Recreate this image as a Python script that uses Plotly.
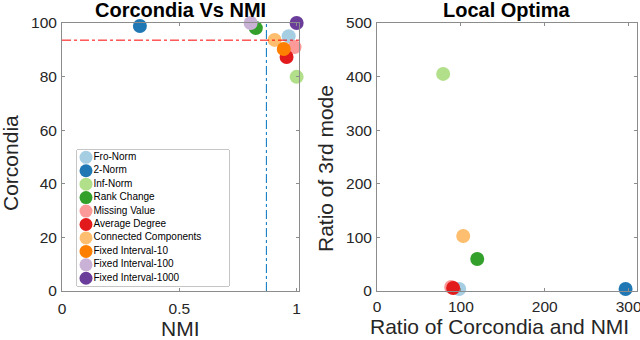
import plotly.graph_objects as go

names = ["Fro-Norm", "2-Norm", "Inf-Norm", "Rank Change", "Missing Value",
         "Average Degree", "Connected Components", "Fixed Interval-10",
         "Fixed Interval-100", "Fixed Interval-1000"]
colors = ["#a6cee3", "#1f78b4", "#b2df8a", "#33a02c", "#fb9a99",
          "#e31a1c", "#fdbf6f", "#ff7f00", "#cab2d6", "#6a3d9a"]
nmi = [0.966, 0.332, 1.0, 0.826, 0.991, 0.957, 0.906, 0.945, 0.804, 1.0]
corcondia = [95.1, 98.9, 79.9, 98.1, 91.0, 87.3, 93.7, 90.3, 100.0, 100.0]
ratio_cc_nmi = [98, 296.4, 78.9, 119.5, 88.4, 90.8, 102.8, None, None, None]
ratio_3rd = [3.7, 3.7, 405, 59.7, 7.5, 5.6, 102.6, None, None, None]
threshold_corcondia = 93.6
threshold_nmi = 0.871

left_ticks_x = [0, 0.5, 1]
left_ticks_y = [0, 20, 40, 60, 80, 100]
right_ticks_x = [0, 100, 200, 300]
right_ticks_y = [0, 100, 200, 300, 400, 500]

FONT = "Liberation Sans, Arial, Helvetica"
W, H = 640, 340
TOP, BOT = 23, 291  # plot area rows in pixels


def px(x):
    return x / W


def py(y):
    return (BOT - y) / (BOT - TOP)


fig = go.Figure()
for i in range(len(names)):
    fig.add_trace(go.Scatter(x=[nmi[i]], y=[corcondia[i]], mode="markers", name=names[i],
                             marker=dict(color=colors[i], size=14, line=dict(width=0)),
                             cliponaxis=False, showlegend=False, xaxis="x", yaxis="y"))
fig.add_trace(go.Scatter(x=[0, 1.01], y=[threshold_corcondia, threshold_corcondia], mode="lines",
                         line=dict(color="red", width=1, dash="dashdot"), showlegend=False,
                         xaxis="x", yaxis="y"))
fig.add_trace(go.Scatter(x=[threshold_nmi, threshold_nmi], y=[0, 100], mode="lines",
                         line=dict(color="#0072BD", width=1, dash="dashdot"), showlegend=False,
                         xaxis="x", yaxis="y"))
for i in range(len(names)):
    if ratio_cc_nmi[i] is None:
        continue
    fig.add_trace(go.Scatter(x=[ratio_cc_nmi[i]], y=[ratio_3rd[i]], mode="markers", name=names[i],
                             marker=dict(color=colors[i], size=14, line=dict(width=0)),
                             cliponaxis=False, showlegend=False, xaxis="x2", yaxis="y2"))

# legend drawn on its own hidden axes (x3/y3), one row per entry
leg_rows = list(range(len(names)))
fig.add_trace(go.Scatter(x=[9] * len(names), y=[7.3 + 13.44 * r for r in leg_rows], mode="markers",
                         marker=dict(color=colors, size=13, line=dict(width=0)),
                         cliponaxis=False, showlegend=False, hoverinfo="skip",
                         xaxis="x3", yaxis="y3"))
fig.add_trace(go.Scatter(x=[16.5] * len(names), y=[7.3 + 13.44 * r for r in leg_rows], mode="text",
                         text=names, textposition="middle right",
                         textfont=dict(family=FONT, size=10, color="#000"),
                         cliponaxis=False, showlegend=False, hoverinfo="skip",
                         xaxis="x3", yaxis="y3"))

axis_common = dict(showline=True, linecolor="#8c8c8c", linewidth=1, mirror="ticks",
                   ticks="inside", ticklen=3, tickcolor="#8c8c8c", showgrid=False, zeroline=False,
                   automargin=False, ticklabeloverflow="allow",
                   tickfont=dict(family=FONT, size=15.5, color="#262626"))

fig.update_layout(
    width=W, height=H,
    margin=dict(l=0, r=0, t=TOP, b=H - BOT, autoexpand=False),
    paper_bgcolor="white", plot_bgcolor="white",
    showlegend=False,
    xaxis=dict(domain=[px(62), px(299)], range=[0, 1.01], tickvals=left_ticks_x,
               ticktext=["0", "0.5", "1"], anchor="y", ticklabelstandoff=3, **axis_common),
    yaxis=dict(domain=[0, 1], range=[0, 100], tickvals=left_ticks_y, anchor="x",
               ticklabelstandoff=1, **axis_common),
    xaxis2=dict(domain=[px(377), px(637)], range=[0, 310], tickvals=right_ticks_x,
                anchor="y2", ticklabelstandoff=1, **axis_common),
    yaxis2=dict(domain=[0, 1], range=[0, 500], tickvals=right_ticks_y, anchor="x2",
                ticklabelstandoff=1, **axis_common),
    xaxis3=dict(domain=[px(77), px(229)], range=[0, 152], visible=False, fixedrange=True, anchor="y3"),
    yaxis3=dict(domain=[py(286), py(150)], range=[136, 0], visible=False, fixedrange=True, anchor="x3"),
    shapes=[dict(type="rect", xref="x3 domain", yref="y3 domain", x0=0, x1=1, y0=0, y1=1,
                 line=dict(color="#8c8c8c", width=1), fillcolor="rgba(0,0,0,0)", layer="below")],
    annotations=[
        dict(text="<b>Corcondia Vs NMI</b>", x=px(180), y=py(10), xref="paper", yref="paper",
             xanchor="center", yanchor="middle", showarrow=False,
             font=dict(family=FONT, size=20, color="#000")),
        dict(text="<b>Local Optima</b>", x=px(507), y=py(10), xref="paper", yref="paper",
             xanchor="center", yanchor="middle", showarrow=False,
             font=dict(family=FONT, size=20, color="#000")),
        dict(text="NMI", x=px(180), y=py(328), xref="paper", yref="paper",
             xanchor="center", yanchor="middle", showarrow=False,
             font=dict(family=FONT, size=21, color="#262626")),
        dict(text="Ratio of Corcondia and NMI", x=px(499), y=py(326), xref="paper", yref="paper",
             xanchor="center", yanchor="middle", showarrow=False,
             font=dict(family=FONT, size=21, color="#262626")),
        dict(text="Corcondia", x=px(10), y=py(163), xref="paper", yref="paper", textangle=-90,
             xanchor="center", yanchor="middle", showarrow=False,
             font=dict(family=FONT, size=21, color="#262626")),
        dict(text="Ratio of 3rd mode", x=px(325), y=py(169), xref="paper", yref="paper", textangle=-90,
             xanchor="center", yanchor="middle", showarrow=False,
             font=dict(family=FONT, size=21, color="#262626")),
    ],
)
fig.write_html("out.html", post_script="document.body.style.margin='0';",
               config={"displayModeBar": False})
